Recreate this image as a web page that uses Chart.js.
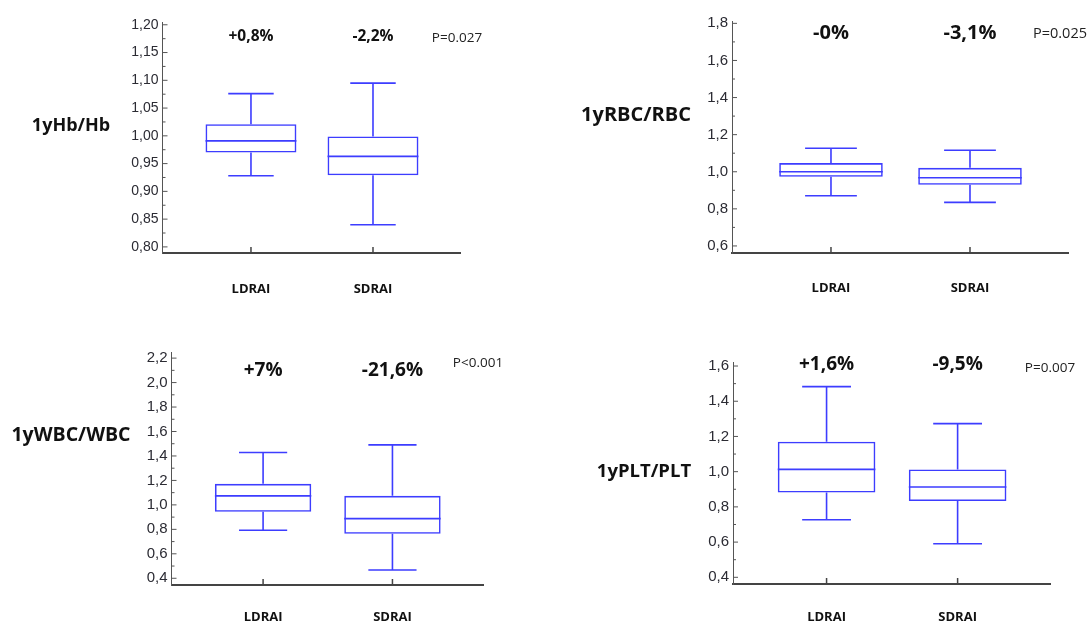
<!DOCTYPE html>
<html><head><meta charset="utf-8">
<script src="https://cdn.jsdelivr.net/npm/chart.js@4.4.1/dist/chart.umd.min.js"></script>
<style>
html,body{margin:0;padding:0;background:#fff;}
#wrap{position:relative;width:1089px;height:637px;overflow:hidden;background:#fff;}
#wrap canvas{position:absolute;left:0;top:0;}
</style></head><body>
<div id="wrap">
<canvas id="c1" width="1089" height="637"></canvas>
<canvas id="c2" width="1089" height="637"></canvas>
<canvas id="c3" width="1089" height="637"></canvas>
<canvas id="c4" width="1089" height="637"></canvas>
</div>
<script>
// ---- data ----
const categories = ['LDRAI', 'SDRAI'];
// each box: [min, q1, median, q3, max]
const hbLDRAI  = [0.928, 0.970, 0.991, 1.021, 1.076];
const hbSDRAI  = [0.840, 0.929, 0.963, 0.999, 1.095];
const rbcLDRAI = [0.871, 0.973, 1.000, 1.047, 1.127];
const rbcSDRAI = [0.835, 0.930, 0.968, 1.021, 1.116];
const wbcLDRAI = [0.793, 0.943, 1.074, 1.172, 1.428];
const wbcSDRAI = [0.468, 0.763, 0.888, 1.074, 1.491];
const pltLDRAI = [0.727, 0.881, 1.013, 1.170, 1.483];
const pltSDRAI = [0.591, 0.833, 0.913, 1.013, 1.273];
const hbChange  = ['+0,8%', '-2,2%'];
const rbcChange = ['-0%', '-3,1%'];
const wbcChange = ['+7%', '-21,6%'];
const pltChange = ['+1,6%', '-9,5%'];
const pValues = ['P=0.027', 'P=0.025', 'P<0.001', 'P=0.007'];
const panelTitles = ['1yHb/Hb', '1yRBC/RBC', '1yWBC/WBC', '1yPLT/PLT'];

// ---- layout / style ----
const W = 1089, H = 637, YW = 60, XH = 50;
const BLUE = '#3d3dff';
const BOXW = 0.745;
const LW = 1.6;

const panels = [
  {id:'c1', boxes:[hbLDRAI, hbSDRAI], change:hbChange, p:pValues[0], title:panelTitles[0],
   ax:162.5, top:22, bottom:253, right:460, xMin:-0.725, xMax:1.713,
   yMin:0.789, yMax:1.205, step:0.025, lbl:0.05, dec:2, tickSize:14,
   changeY:37, changeSize:15.5, pX:457, pY:38, pSize:13.5, tX:71, tY:126, tSize:18, catPad:28},
  {id:'c2', boxes:[rbcLDRAI, rbcSDRAI], change:rbcChange, p:pValues[1], title:panelTitles[1],
   ax:732, top:21.5, bottom:253, right:1068, xMin:-0.712, xMax:1.705,
   yMin:0.562, yMax:1.81, step:0.1, lbl:0.2, dec:1, tickSize:15,
   changeY:33, changeSize:20, pX:1060, pY:34, pSize:14.5, tX:636, tY:115, tSize:20, catPad:27},
  {id:'c3', boxes:[wbcLDRAI, wbcSDRAI], change:wbcChange, p:pValues[2], title:panelTitles[2],
   ax:171.5, top:352, bottom:585, right:483, xMin:-0.708, xMax:1.70,
   yMin:0.345, yMax:2.25, step:0.1, lbl:0.2, dec:1, tickSize:15,
   changeY:371, changeSize:19, pX:478, pY:363, pSize:13.5, tX:71, tY:435, tSize:19.5, catPad:24},
  {id:'c4', boxes:[pltLDRAI, pltSDRAI], change:pltChange, p:pValues[3], title:panelTitles[3],
   ax:733, top:362.5, bottom:584, right:1050, xMin:-0.714, xMax:1.705,
   yMin:0.362, yMax:1.62, step:0.1, lbl:0.2, dec:1, tickSize:15,
   changeY:365, changeSize:19, pX:1050, pY:368, pSize:13.5, tX:644, tY:472, tSize:18.5, catPad:25}
];

function isMajor(v, lbl) {
  const r = v / lbl;
  return Math.abs(r - Math.round(r)) < 1e-6;
}

function makePlugin(P) {
  return {
    id: 'boxwhisker',
    afterDatasetsDraw(chart) {
      const {ctx, chartArea: a, scales: {x, y}} = chart;
      ctx.save();
      // inward y ticks
      ctx.strokeStyle = '#555';
      ctx.lineWidth = 1;
      y.ticks.forEach(t => {
        const py = y.getPixelForValue(t.value);
        const len = isMajor(t.value, P.lbl) ? 5 : 3;
        ctx.beginPath(); ctx.moveTo(a.left, py); ctx.lineTo(a.left + len, py); ctx.stroke();
      });
      // inward x category ticks
      ctx.lineWidth = 1.5;
      ctx.strokeStyle = '#444';
      categories.forEach((c, i) => {
        const px = x.getPixelForValue(i);
        ctx.beginPath(); ctx.moveTo(px, a.bottom); ctx.lineTo(px, a.bottom - 6); ctx.stroke();
      });
      // whiskers + median
      ctx.strokeStyle = BLUE;
      ctx.lineWidth = LW;
      const bw = x.getPixelForValue(BOXW) - x.getPixelForValue(0);
      const cap = bw / 4;
      P.boxes.forEach((b, i) => {
        const cx = x.getPixelForValue(i);
        const yMin = y.getPixelForValue(b[0]), yQ1 = y.getPixelForValue(b[1]),
              yMed = y.getPixelForValue(b[2]), yQ3 = y.getPixelForValue(b[3]),
              yMax = y.getPixelForValue(b[4]);
        ctx.beginPath();
        ctx.moveTo(cx, yQ3); ctx.lineTo(cx, yMax);
        ctx.moveTo(cx - cap, yMax); ctx.lineTo(cx + cap, yMax);
        ctx.moveTo(cx, yQ1); ctx.lineTo(cx, yMin);
        ctx.moveTo(cx - cap, yMin); ctx.lineTo(cx + cap, yMin);
        ctx.moveTo(cx - bw / 2, yMed); ctx.lineTo(cx + bw / 2, yMed);
        ctx.stroke();
      });
      // change labels
      ctx.fillStyle = '#111';
      ctx.textAlign = 'center';
      ctx.textBaseline = 'middle';
      ctx.font = 'bold ' + P.changeSize + 'px "Open Sans"';
      P.change.forEach((txt, i) => {
        ctx.fillText(txt, x.getPixelForValue(i), P.changeY);
      });
      // p value
      ctx.fillStyle = '#222';
      ctx.font = P.pSize + 'px "Open Sans"';
      ctx.fillText(P.p, P.pX, P.pY);
      // row title
      ctx.fillStyle = '#111';
      ctx.font = 'bold ' + P.tSize + 'px "Open Sans"';
      ctx.fillText(P.title, P.tX, P.tY);
      ctx.restore();
    }
  };
}

panels.forEach(P => {
  const ctx = document.getElementById(P.id).getContext('2d');
  new Chart(ctx, {
    type: 'bar',
    data: {
      datasets: [{
        data: P.boxes.map((b, i) => ({x: i, y: [b[1], b[3]]})),
        backgroundColor: 'rgba(0,0,0,0)',
        borderColor: BLUE,
        borderWidth: LW,
        borderSkipped: false,
        categoryPercentage: 1,
        barPercentage: BOXW
      }]
    },
    options: {
      responsive: false,
      animation: false,
      events: [],
      layout: {padding: {left: P.ax - YW, top: P.top, right: W - P.right, bottom: H - P.bottom - XH}},
      plugins: {legend: {display: false}, tooltip: {enabled: false}},
      scales: {
        x: {
          type: 'linear', min: P.xMin, max: P.xMax, offset: false,
          grid: {display: false, drawTicks: false, offset: false},
          border: {display: true, color: '#444', width: 2},
          afterBuildTicks: s => { s.ticks = categories.map((c, i) => ({value: i})); },
          afterFit: s => { s.height = XH; },
          ticks: {
            autoSkip: false, maxRotation: 0, padding: P.catPad,
            callback: v => categories[v],
            font: {family: '"Open Sans"', weight: 'bold', size: 13},
            color: '#111'
          }
        },
        y: {
          min: P.yMin, max: P.yMax,
          grid: {display: false, drawTicks: false},
          border: {display: true, color: '#555', width: 1},
          afterFit: s => { s.width = YW; },
          ticks: {
            stepSize: P.step, autoSkip: false, includeBounds: false, padding: 4,
            callback: v => isMajor(v, P.lbl) ? v.toFixed(P.dec).replace('.', ',') : '',
            font: {family: '"Liberation Sans"', size: P.tickSize},
            color: '#2b2b33'
          }
        }
      }
    },
    plugins: [makePlugin(P)]
  });
});
</script>
</body></html>
